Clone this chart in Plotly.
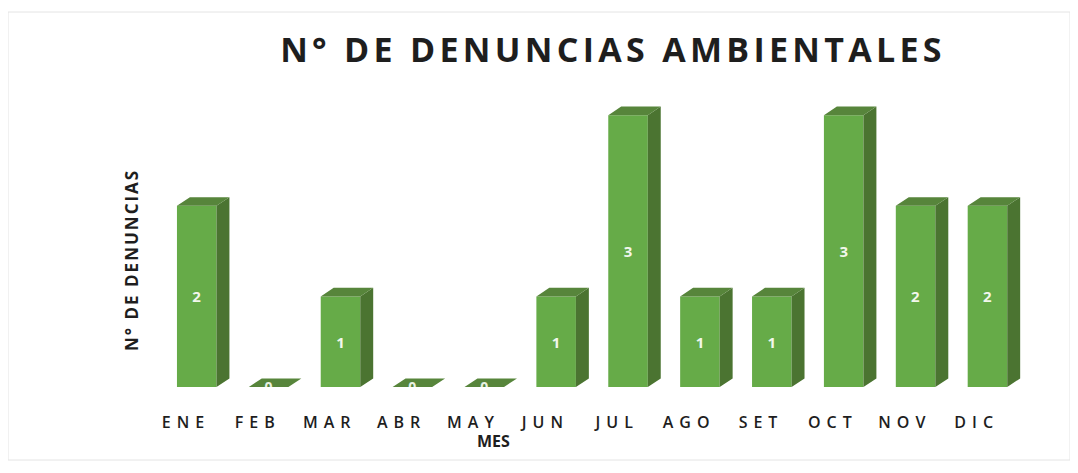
import plotly.graph_objects as go

months = ["ENE", "FEB", "MAR", "ABR", "MAY", "JUN", "JUL", "AGO", "SET", "OCT", "NOV", "DIC"]
denuncias = [2, 0, 1, 0, 0, 1, 3, 1, 1, 3, 2, 2]

title = "N° DE DENUNCIAS AMBIENTALES"
y_title = "N° DE DENUNCIAS"
x_title = "MES"

FRONT = "#66ab48"
SIDE = "#4b7431"
TOP = "#57853b"

n = len(months)
idx = list(range(n))
shift = 0.15      # bar offset from label centre (3D perspective look)
w = 0.55          # bar width (category units)
dx = 0.18         # depth, x
dy = 0.095        # depth, y

left = [i + shift - w / 2 for i in idx]

fig = go.Figure()

fig.add_trace(go.Bar(
    x=idx, y=denuncias, width=w, offset=shift - w / 2,
    marker=dict(color=FRONT, line=dict(width=0)),
    text=[str(v) if v > 0 else "" for v in denuncias],
    textposition="inside", insidetextanchor="middle",
    textfont=dict(family="Open Sans", size=15, color="#f2f7ec", weight="bold"),
    hoverinfo="skip", showlegend=False,
))

# side faces
sx, sy = [], []
for l, v in zip(left, denuncias):
    r = l + w
    sx += [r, r + dx, r + dx, r, r, None]
    sy += [0, dy, v + dy, v, 0, None]
fig.add_trace(go.Scatter(x=sx, y=sy, mode="lines", fill="toself", fillcolor=SIDE,
                         line=dict(width=0, color=SIDE), hoverinfo="skip", showlegend=False))

# top faces
tx, ty = [], []
for l, v in zip(left, denuncias):
    r = l + w
    tx += [l, l + dx, r + dx, r, l, None]
    ty += [v, v + dy, v + dy, v, v, None]
fig.add_trace(go.Scatter(x=tx, y=ty, mode="lines", fill="toself", fillcolor=TOP,
                         line=dict(width=0, color=TOP), hoverinfo="skip", showlegend=False))

# zero labels (half hidden at the base)
zx = [l + w / 2 for l, v in zip(left, denuncias) if v == 0]
zy = [-0.02 for v in denuncias if v == 0]
fig.add_trace(go.Scatter(x=zx, y=zy, mode="text", text=["0"] * len(zx),
                         textposition="middle center",
                         textfont=dict(family="Open Sans", size=14, color="#e9f1e2", weight="bold"),
                         hoverinfo="skip", showlegend=False, cliponaxis=True))

OFF = 8  # default page body margin
W, H = 1078 - OFF, 473 - OFF
ml = 150 - OFF
mr = W - (1027 - OFF)
mt = 88 - OFF
mb = H - (387 - OFF)
pw = W - ml - mr
ph = H - mt - mb


def px_x(x):
    return (x - 150) / pw


def px_y(y):
    return (387 - y) / ph


fig.update_layout(
    width=W, height=H,
    margin=dict(l=ml, r=mr, t=mt, b=mb),
    paper_bgcolor="white", plot_bgcolor="white",
    title=dict(text=title, x=(613 - OFF) / W, xref="container", xanchor="center",
               y=1 - (50 - OFF) / H, yref="container", yanchor="middle",
               font=dict(family="Open Sans", size=34, color="#1e1e1e", weight="bold")),
    xaxis=dict(range=[-0.5, 11.7], tickmode="array", tickvals=idx, ticktext=months,
               showgrid=False, zeroline=False, showline=False, ticks="",
               ticklabelstandoff=24,
               tickfont=dict(family="Open Sans", size=16, color="#1e1e1e", weight=600)),
    yaxis=dict(range=[0, 3.3], visible=False, showgrid=False, zeroline=False),
    annotations=[
        dict(text=y_title, xref="paper", yref="paper",
             x=px_x(131), y=px_y(260), textangle=-90,
             showarrow=False, xanchor="center", yanchor="middle",
             font=dict(family="Open Sans", size=17, color="#1e1e1e", weight="bold")),
        dict(text=x_title, xref="paper", yref="paper",
             x=px_x(493), y=px_y(441),
             showarrow=False, xanchor="center", yanchor="middle",
             font=dict(family="Open Sans", size=16, color="#1e1e1e", weight="bold")),
    ],
    shapes=[dict(type="rect", xref="paper", yref="paper",
                 x0=px_x(8), x1=px_x(1070),
                 y0=px_y(460), y1=px_y(12),
                 line=dict(color="#e4e4e4", width=1), layer="below")],
)

post = """
var gd = document.getElementById('{plot_id}');
function sp(){
  gd.querySelectorAll('.gtitle').forEach(function(e){ e.style.letterSpacing='4.3px'; });
  gd.querySelectorAll('.xtick text').forEach(function(e){ e.style.letterSpacing='6px'; });
  var a = gd.querySelectorAll('.annotation-text');
  if (a.length) { a[0].style.letterSpacing='2px'; }
}
sp();
"""

fig.write_html("out.html", post_script=post)
